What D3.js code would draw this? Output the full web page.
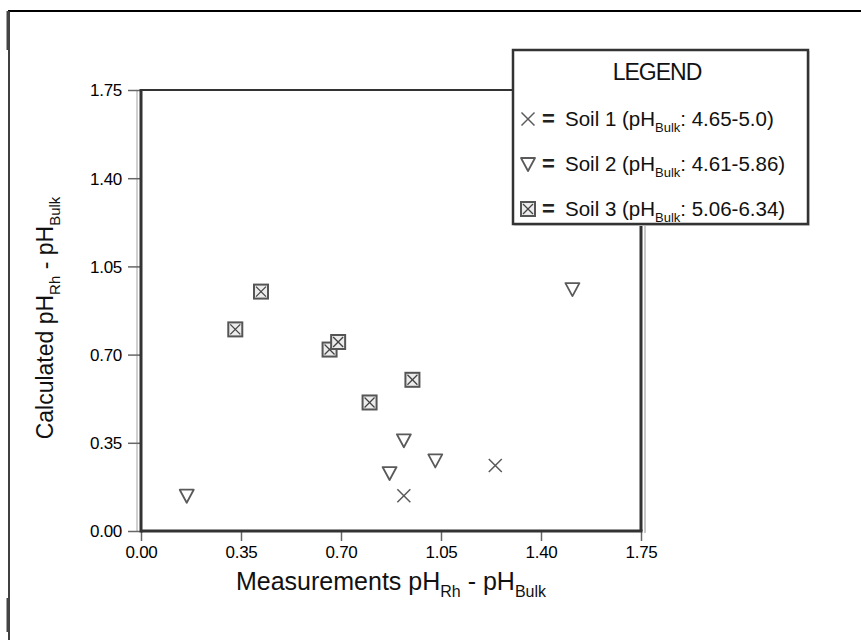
<!DOCTYPE html>
<html>
<head>
<meta charset="utf-8">
<script src="https://cdn.jsdelivr.net/npm/d3@7"></script>
<style>
  html, body { margin: 0; padding: 0; background: #fff; }
  svg { display: block; font-family: "Liberation Sans", Arial, Helvetica, sans-serif; }
</style>
</head>
<body>
<svg id="chart" width="861" height="640"></svg>
<script>
// ---- data ----
const tickValues = [0.00, 0.35, 0.70, 1.05, 1.40, 1.75];
const tickLabels = ["0.00", "0.35", "0.70", "1.05", "1.40", "1.75"];

const soil1X = [0.92, 1.24];
const soil1Y = [0.14, 0.26];

const soil2X = [0.16, 0.87, 0.92, 1.03, 1.51];
const soil2Y = [0.14, 0.23, 0.36, 0.28, 0.96];

const soil3X = [0.33, 0.42, 0.66, 0.69, 0.80, 0.95];
const soil3Y = [0.80, 0.95, 0.72, 0.75, 0.51, 0.60];

const legendNames = ["Soil 1", "Soil 2", "Soil 3"];
const legendRanges = [": 4.65-5.0)", ": 4.61-5.86)", ": 5.06-6.34)"];

// ---- layout ----
const svg = d3.select("#chart");
const x = d3.scaleLinear().domain([0, 1.75]).range([141, 641]);
const y = d3.scaleLinear().domain([0, 1.75]).range([531, 90]);

// outer page frame
svg.append("line").attr("x1", 8).attr("x2", 861).attr("y1", 11).attr("y2", 11).attr("stroke", "#000").attr("stroke-width", 2);
svg.append("line").attr("x1", 9).attr("x2", 9).attr("y1", 11).attr("y2", 640).attr("stroke", "#000").attr("stroke-width", 1.5);
svg.append("line").attr("x1", 8).attr("x2", 8).attr("y1", 11).attr("y2", 50).attr("stroke", "#444").attr("stroke-width", 3);
svg.append("line").attr("x1", 8).attr("x2", 8).attr("y1", 598).attr("y2", 632).attr("stroke", "#444").attr("stroke-width", 3);

// shadow lines
svg.append("line").attr("x1", x(0) - 4).attr("x2", x(0) - 4).attr("y1", y(1.75)).attr("y2", y(0)).attr("stroke", "#d0d0d0").attr("stroke-width", 2);
svg.append("line").attr("x1", x(1.75) + 4).attr("x2", x(1.75) + 4).attr("y1", y(1.75)).attr("y2", y(0) + 2).attr("stroke", "#c8c8c8").attr("stroke-width", 2);

// axes via d3
const yAxis = d3.axisLeft(y).tickValues(tickValues).tickFormat((d, i) => tickLabels[i]).tickSize(13).tickPadding(6);
const xAxis = d3.axisBottom(x).tickValues(tickValues).tickFormat((d, i) => tickLabels[i]).tickSize(10).tickPadding(5);

const gy = svg.append("g").attr("transform", `translate(${x(0)},0)`).call(yAxis);
const gx = svg.append("g").attr("transform", `translate(0,${y(0)})`).call(xAxis);
[gx, gy].forEach(g => {
  g.select(".domain").remove();
  g.selectAll(".tick line").attr("stroke", "#666").attr("stroke-width", 1.5);
  g.selectAll(".tick text").attr("font-size", 17).attr("fill", "#000")
    .attr("letter-spacing", -0.3)
    .attr("font-family", "'Liberation Sans', Arial, sans-serif");
});
gy.selectAll(".tick text").attr("dy", "0.35em");

// plot frame
svg.append("line").attr("x1", x(0)).attr("x2", x(1.75)).attr("y1", y(1.75)).attr("y2", y(1.75)).attr("stroke", "#333").attr("stroke-width", 2);
svg.append("line").attr("x1", x(1.75)).attr("x2", x(1.75)).attr("y1", y(1.75)).attr("y2", y(0)).attr("stroke", "#333").attr("stroke-width", 3);
svg.append("line").attr("x1", x(0)).attr("x2", x(0)).attr("y1", y(1.75) - 1).attr("y2", y(0) + 1.5).attr("stroke", "#333").attr("stroke-width", 3);
svg.append("line").attr("x1", x(0)).attr("x2", x(1.75) + 1.5).attr("y1", y(0)).attr("y2", y(0)).attr("stroke", "#333").attr("stroke-width", 3);

// axis titles
const xt = svg.append("text").attr("x", 391).attr("y", 590).attr("text-anchor", "middle")
  .attr("font-size", 25).attr("fill", "#111");
xt.append("tspan").text("Measurements pH");
xt.append("tspan").attr("font-size", 16).attr("dy", 7).text("Rh");
xt.append("tspan").attr("dy", -7).text(" - pH");
xt.append("tspan").attr("font-size", 16).attr("dy", 7).text("Bulk");

const yt = svg.append("text").attr("transform", "translate(53,318) rotate(-90)").attr("text-anchor", "middle")
  .attr("font-size", 23).attr("fill", "#111");
yt.append("tspan").text("Calculated pH");
yt.append("tspan").attr("font-size", 15).attr("dy", 7).text("Rh");
yt.append("tspan").attr("dy", -7).text(" - pH");
yt.append("tspan").attr("font-size", 15).attr("dy", 7).text("Bulk");

// marker drawers
const markerStroke = "#5a5a5a";
function drawCross(g) {
  const s = 6.5;
  g.append("line").attr("x1", -s).attr("y1", -s).attr("x2", s).attr("y2", s).attr("stroke", markerStroke).attr("stroke-width", 1.5);
  g.append("line").attr("x1", -s).attr("y1", s).attr("x2", s).attr("y2", -s).attr("stroke", markerStroke).attr("stroke-width", 1.5);
}
function drawTri(g) {
  g.append("path").attr("d", "M-7,-6 L7,-6 L0,7 Z").attr("fill", "#fff")
    .attr("stroke", markerStroke).attr("stroke-width", 1.8).attr("stroke-linejoin", "round");
}
function drawBox(g) {
  const s = 7;
  g.append("rect").attr("x", -s).attr("y", -s).attr("width", 2 * s).attr("height", 2 * s)
    .attr("fill", "#ececec").attr("stroke", "#555").attr("stroke-width", 2);
  g.append("line").attr("x1", -s + 2).attr("y1", -s + 2).attr("x2", s - 2).attr("y2", s - 2).attr("stroke", "#444").attr("stroke-width", 1.3);
  g.append("line").attr("x1", -s + 2).attr("y1", s - 2).attr("x2", s - 2).attr("y2", -s + 2).attr("stroke", "#444").attr("stroke-width", 1.3);
}

function plotSeries(xs, ys, drawer) {
  const pts = xs.map((v, i) => ({ x: v, y: ys[i] }));
  svg.append("g").selectAll("g").data(pts).join("g")
    .attr("transform", d => `translate(${x(d.x)},${y(d.y)})`)
    .each(function () { drawer(d3.select(this)); });
}
plotSeries(soil3X, soil3Y, drawBox);
plotSeries(soil2X, soil2Y, drawTri);
plotSeries(soil1X, soil1Y, drawCross);

// legend
const lg = svg.append("g");
lg.append("rect").attr("x", 514).attr("y", 51).attr("width", 296).attr("height", 175).attr("fill", "#d8d8d8");
lg.append("rect").attr("x", 513).attr("y", 50).attr("width", 295).attr("height", 174)
  .attr("fill", "#fff").attr("stroke", "#333").attr("stroke-width", 2.5);
lg.append("text").attr("x", 657).attr("y", 80).attr("text-anchor", "middle").attr("font-size", 23)
  .attr("letter-spacing", -1).attr("fill", "#111").text("LEGEND");

const rowY = [119, 164, 209];
const drawers = [drawCross, drawTri, drawBox];
rowY.forEach((ry, i) => {
  const g = lg.append("g").attr("transform", `translate(528,${ry})`);
  drawers[i](g);
  lg.append("text").attr("x", 542).attr("y", ry + 7).attr("font-size", 22).attr("font-weight", "bold")
    .attr("fill", "#222").text("=");
  const t = lg.append("text").attr("x", 565).attr("y", ry + 7).attr("font-size", 20.5).attr("fill", "#111");
  t.append("tspan").text(legendNames[i] + " (pH");
  t.append("tspan").attr("font-size", 13).attr("dy", 6).text("Bulk");
  t.append("tspan").attr("dy", -6).text(legendRanges[i]);
});
</script>
</body>
</html>
